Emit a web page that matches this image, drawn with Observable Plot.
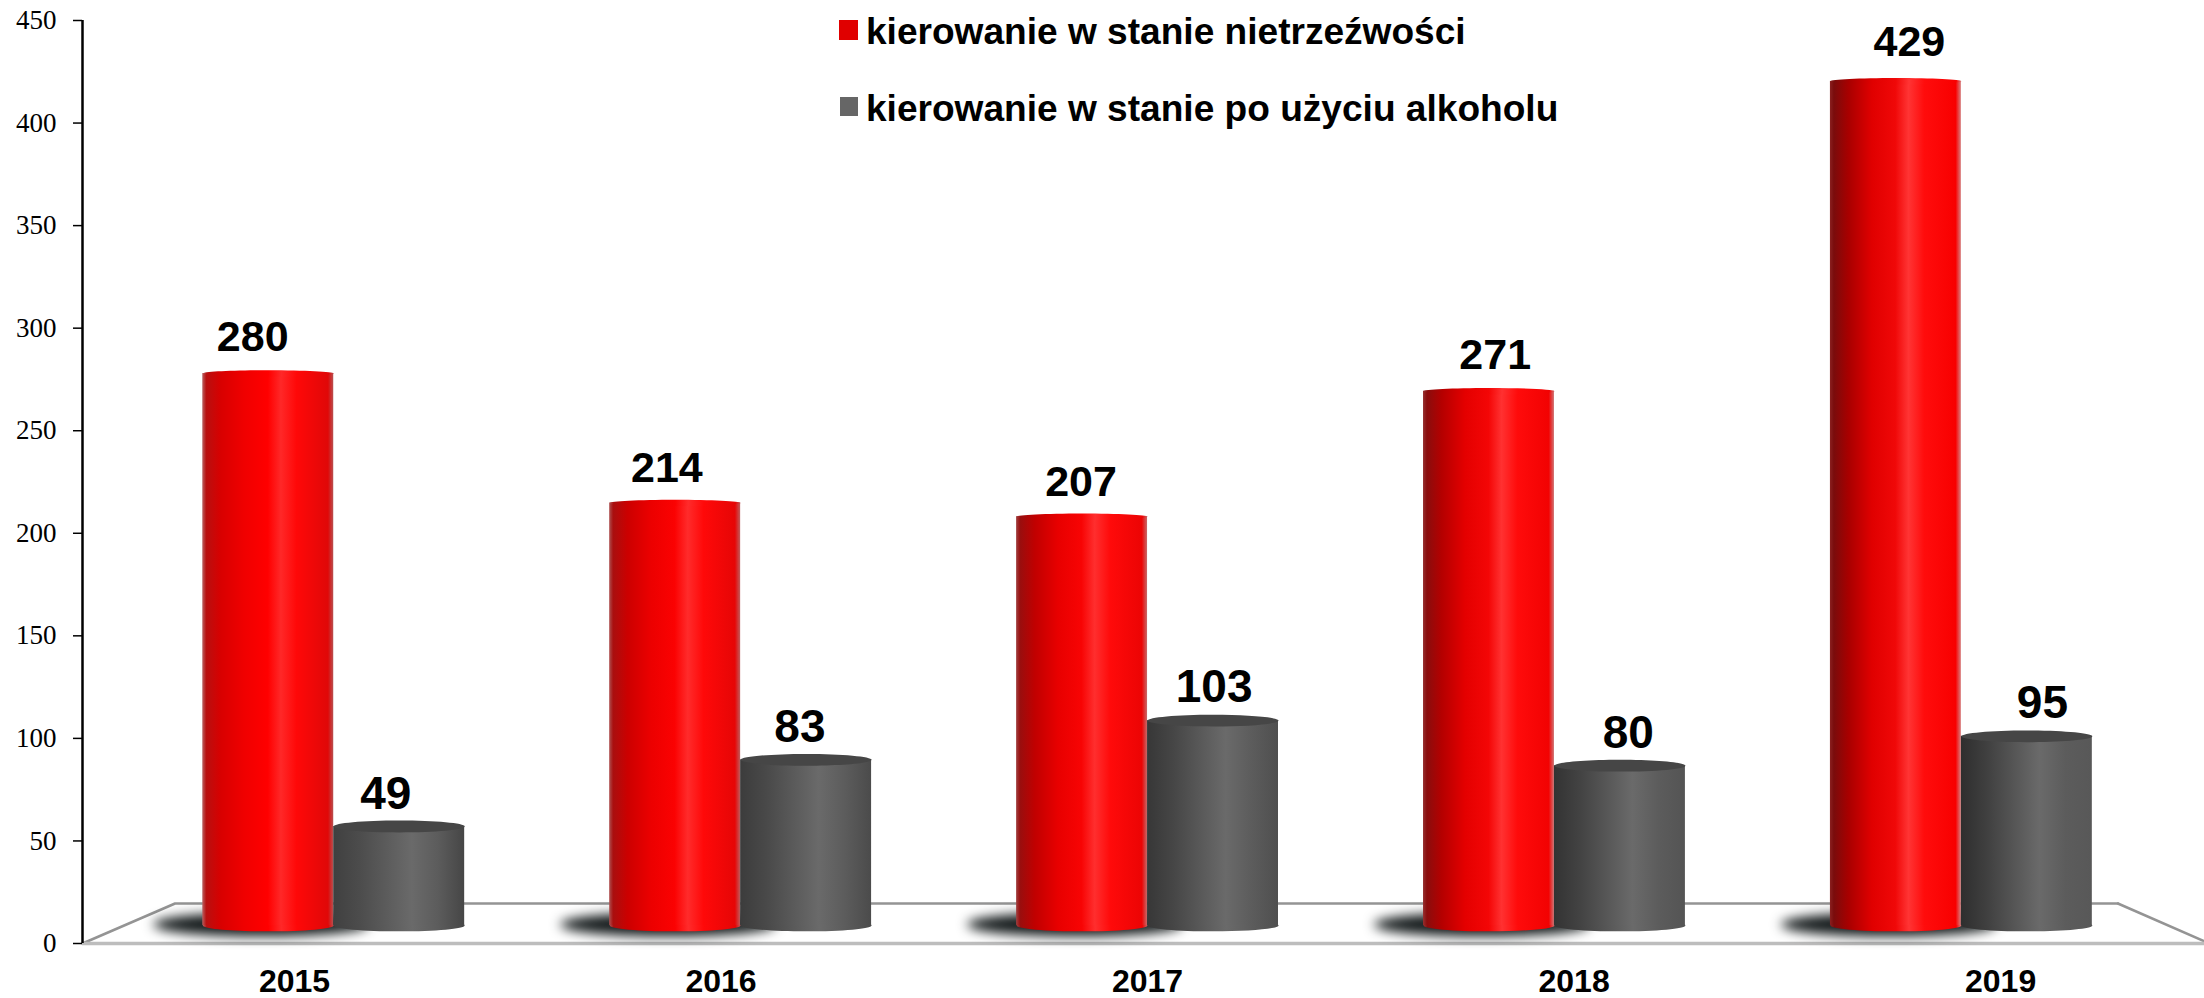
<!DOCTYPE html>
<html lang="pl">
<head>
<meta charset="utf-8">
<script src="https://cdn.jsdelivr.net/npm/d3@7"></script>
<script src="https://cdn.jsdelivr.net/npm/@observablehq/plot@0.6"></script>
<style>
html,body{margin:0;padding:0;background:#fff;overflow:hidden}
#wrap{position:relative;width:2204px;height:998px}
.lg{position:absolute;left:866px;font:bold 37.1px "Liberation Sans",Arial,sans-serif;color:#000;white-space:nowrap;line-height:40px}
.sw{position:absolute}
svg{display:block}
</style>
</head>
<body>
<div id="wrap">
<div class="sw" style="left:839px;top:20px;width:19px;height:20px;background:#e00000"></div>
<div class="lg" style="top:11px">kierowanie w stanie nietrzeźwości</div>
<div class="sw" style="left:840px;top:97px;width:18px;height:19px;background:#666"></div>
<div class="lg" style="top:88px">kierowanie w stanie po użyciu alkoholu</div>
</div>
<script>
const years = [2015, 2016, 2017, 2018, 2019];
const drunk = [280, 214, 207, 271, 429];
const afterAlcohol = [49, 83, 103, 80, 95];
const yTicks = [0, 50, 100, 150, 200, 250, 300, 350, 400, 450];

// Pseudo-3D projection, in data units: the bars stand on a floor behind the axis plane.
const xDomain = [2014.503, 2019.478];
const midYear = 2017, barShrink = 0.954, labelShrink = 0.971;
const barWidth = 0.307, labelOffset = 0.156;
const floorLift = 8.8, topLift = 10.2, heightShrink = 0.956;
const labelLift = 18, labelHeightShrink = 0.967;
const capRadius = 65.5;

const floorX = [xDomain[0], 2014.72, 2019.275, xDomain[1]];
const floorY = [0, 19.5, 19.5, 1];

const barX = y => midYear + (y - midYear) * barShrink;
const labelX = y => midYear + (y - midYear) * labelShrink;

const redRows = years.map((year, i) => ({year, value: drunk[i], x1: barX(year) - barWidth, x2: barX(year), grad: `url(#redCyl${year})`}));
const grayRows = years.map((year, i) => ({year, value: afterAlcohol[i], x1: barX(year), x2: barX(year) + barWidth, grad: `url(#grayCyl${year})`}));

const flatEllipse = aspect => ({
  draw(c, size) {
    const r = Math.sqrt(size / Math.PI), b = r * aspect, k = 0.5523;
    c.moveTo(-r, 0);
    c.bezierCurveTo(-r, -b * k, -r * k, -b, 0, -b);
    c.bezierCurveTo(r * k, -b, r, -b * k, r, 0);
    c.bezierCurveTo(r, b * k, r * k, b, 0, b);
    c.bezierCurveTo(-r * k, b, -r, b * k, -r, 0);
    c.closePath();
  }
});

const redOffsets = [0, 0.03, 0.14, 0.32, 0.5, 0.6, 0.72, 0.96, 1];
const redFirst = ["#b86060", "#b81010", "#d80000", "#f00000", "#ff0000", "#ff2828", "#ff0808", "#e00808", "#b85050"];
const redLast = ["#8a2020", "#7a0c0c", "#a80000", "#e00000", "#f00808", "#ff3434", "#ff0c0c", "#f80000", "#d88080"];
const grayOffsets = [0, 0.2, 0.6, 0.8, 1];
const grayFirst = ["#404040", "#4c4c4c", "#6a6a6a", "#5c5c5c", "#464646"];
const grayLast = ["#2e2e2e", "#404040", "#6a6a6a", "#5c5c5c", "#585858"];

function gradients() {
  const g = d3.create("svg:g");
  const defs = g.append("defs");
  const add = (id, offsets, a, b, t) => {
    const lg = defs.append("linearGradient").attr("id", id);
    offsets.forEach((o, i) => lg.append("stop").attr("offset", o).attr("stop-color", d3.interpolateRgb(a[i], b[i])(t)));
  };
  years.forEach((year, i) => {
    const t = i / (years.length - 1);
    add(`redCyl${year}`, redOffsets, redFirst, redLast, t);
    add(`grayCyl${year}`, grayOffsets, grayFirst, grayLast, t);
  });
  return g.node();
}

const cylinders = (rows, capAspect, cap) => [
  Plot.dot(rows, {x: d => (d.x1 + d.x2) / 2, y: () => floorLift, r: capRadius, symbol: flatEllipse(0.09), fill: "grad"}),
  Plot.rect(rows, {x1: "x1", x2: "x2", y1: () => floorLift, y2: d => topLift + d.value * heightShrink, fill: "grad"}),
  Plot.dot(rows, {x: d => (d.x1 + d.x2) / 2, y: d => topLift + d.value * heightShrink, r: capRadius, symbol: flatEllipse(capAspect), fill: cap})
];

const valueLabels = (values, side, size) => Plot.text(years, {
  x: (y) => labelX(y) + side * labelOffset,
  y: (y, i) => labelLift + values[i] * labelHeightShrink,
  text: (y, i) => String(values[i]),
  fontSize: size, fontWeight: "bold", fontFamily: "Liberation Sans", fill: "#000", lineAnchor: "bottom", textAnchor: "middle"
});

const chart = Plot.plot({
  width: 2204, height: 998,
  marginLeft: 82, marginRight: 0, marginTop: 20, marginBottom: 55,
  style: {background: "#fff", overflow: "visible"},
  x: {domain: xDomain, label: null},
  y: {domain: [0, 450], label: null},
  color: {type: "identity"},
  marks: [
    gradients,
    Plot.line(floorX.slice(0, 3).map((x, i) => ({x, y: floorY[i]})), {x: "x", y: "y", stroke: "#949494", strokeWidth: 2.5}),
    Plot.line(floorX.slice(2).map((x, i) => ({x, y: floorY[i + 2]})), {x: "x", y: "y", stroke: "#949494", strokeWidth: 2.5}),
    Plot.ruleY([0], {stroke: "#bdbdbd", strokeWidth: 3.5}),
    Plot.dot(years, {x: y => barX(y) - 0.17, y: () => 9.3, r: 108, symbol: flatEllipse(0.11), fill: "#141a1b", imageFilter: "blur(6px)"}),
    ...cylinders(redRows, 0.05, "grad"),
    ...cylinders(grayRows, 0.09, "#464646"),
    valueLabels(drunk, -1, 43),
    valueLabels(afterAlcohol, 1, 46),
    Plot.ruleX([xDomain[0]], {y1: 0, y2: 450, stroke: "#000", strokeWidth: 2.5}),
    Plot.axisY({ticks: yTicks, tickSize: 9, tickPadding: 17, strokeWidth: 1.5, stroke: "#000", fontSize: 27, fontFamily: "Liberation Serif", fill: "#000", label: null, tickFormat: "d"}),
    Plot.axisX({ticks: years, tickSize: 0, tickPadding: 26, fontSize: 32, fontWeight: "bold", fontFamily: "Liberation Sans", fill: "#000", label: null, tickFormat: "d"})
  ]
});
document.getElementById("wrap").appendChild(chart);
</script>
</body>
</html>
